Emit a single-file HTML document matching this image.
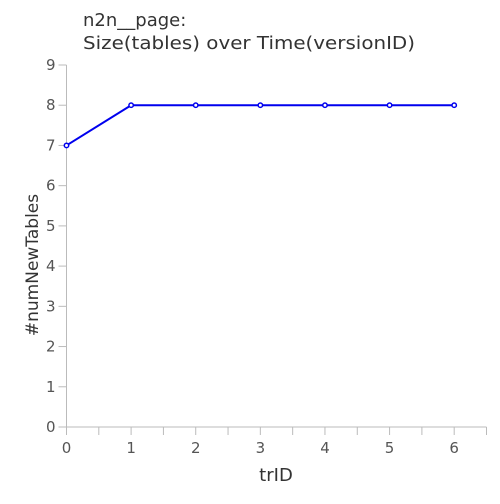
<!DOCTYPE html>
<html><head><meta charset="utf-8"><style>
body{margin:0;background:#fff;font-family:"DejaVu Sans","Liberation Sans",sans-serif}
</style></head><body>
<svg width="500" height="500" id="c" font-family="DejaVu Sans, Liberation Sans, sans-serif">
<text x="83" y="26" font-size="18" fill="#333">n2n__page:</text>
<text x="83" y="49" font-size="18" fill="#333" textLength="332" lengthAdjust="spacingAndGlyphs">Size(tables) over Time(versionID)</text>
<text x="276" y="481" font-size="18" fill="#333" text-anchor="middle">trID</text>
<text transform="translate(38,265) rotate(-90)" font-size="17" fill="#333" text-anchor="middle">#numNewTables</text>
<g id="axes"></g><g id="marks"></g>
</svg>
<script>
const xValues=[0,1,2,3,4,5,6];
const yValues=[7,8,8,8,8,8,8];
const yTicks=[0,1,2,3,4,5,6,7,8,9];
const xTicks=[0,1,2,3,4,5,6];
const X0=66.5,X1=486.5,XMAX=6.5,Y0=427,Y1=65,YMAX=9;
const sx=v=>X0+(X1-X0)*v/XMAX, sy=v=>Y0-(Y0-Y1)*v/YMAX;
const NS="http://www.w3.org/2000/svg";
const axes=document.getElementById('axes'),marks=document.getElementById('marks');
function mk(t,a,p){const e=document.createElementNS(NS,t);for(const k in a)e.setAttribute(k,a[k]);p.appendChild(e);return e;}
let e=mk('line',{x1:X0,y1:Y1,x2:X0,y2:Y0,stroke:'#bbb'},axes);


e=mk('line',{x1:X0,y1:Y0,x2:X1,y2:Y0,stroke:'#bbb'},axes);


yTicks.forEach(v=>{const y=sy(v);
 let t=mk('line',{x1:X0-8,y1:y,x2:X0,y2:y,stroke:'#bbb'},axes);
 
 
 let l=mk('text',{x:X0-11,y:y+5,'font-size':15,fill:'#555','text-anchor':'end'},axes);l.textContent=v;
 
 });
for(let v=0;v<=XMAX+1e-9;v+=0.5){const x=sx(v);
 let t=mk('line',{x1:x,y1:Y0,x2:x,y2:Y0+8,stroke:'#bbb'},axes);
 
 }
xTicks.forEach(v=>{let l=mk('text',{x:sx(v),y:Y0+26,'font-size':15,fill:'#555','text-anchor':'middle'},axes);l.textContent=v;
 
 });
let p=mk('polyline',{points:xValues.map((x,i)=>sx(x)+','+sy(yValues[i])).join(' '),fill:'none',stroke:'#0000ee','stroke-width':2},marks);


xValues.forEach((x,i)=>{let c=mk('circle',{cx:sx(x),cy:sy(yValues[i]),r:2.2,fill:'#fff',stroke:'#0000ee','stroke-width':1.5},marks);
 
 });
</script>
</body></html>
